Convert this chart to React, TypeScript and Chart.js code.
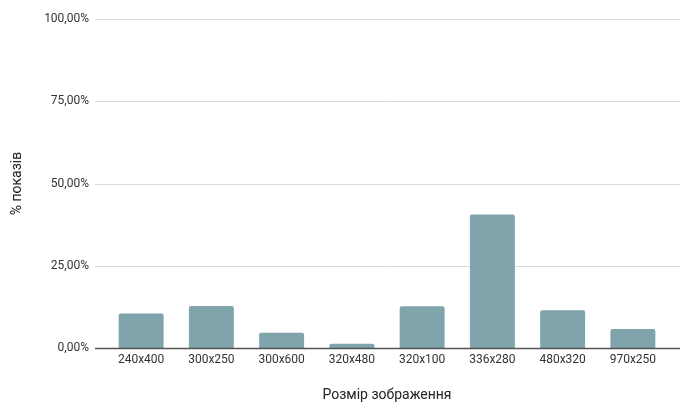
import React, { useEffect, useRef } from "react";
import { Chart, registerables } from "chart.js";

Chart.register(...registerables);

const categories = ["240x400", "300x250", "300x600", "320x480", "320x100", "336x280", "480x320", "970x250"];
const shares = [10.5, 12.8, 4.6, 1.3, 12.7, 40.6, 11.5, 5.8];
const yTicks = [0, 25, 50, 75, 100];

const fmt = (v: number) => v.toFixed(2).replace(".", ",") + "%";

const gridPlugin = {
  id: "sheetGrid",
  beforeDatasetsDraw(chart: any) {
    const { ctx, chartArea } = chart;
    const y = chart.scales.y;
    const l = chartArea.left - 11;
    const r = chartArea.right + 12;
    ctx.save();
    ctx.strokeStyle = "#d9d9d9";
    ctx.lineWidth = 1;
    yTicks.forEach((t) => {
      if (t === 0) return;
      const py = Math.round(y.getPixelForValue(t)) + 0.5;
      ctx.beginPath();
      ctx.moveTo(l, py);
      ctx.lineTo(r, py);
      ctx.stroke();
    });
    ctx.restore();
  },
  afterDatasetsDraw(chart: any) {
    const { ctx, chartArea } = chart;
    const y = chart.scales.y;
    const py = Math.round(y.getPixelForValue(0)) + 0.5;
    ctx.save();
    ctx.strokeStyle = "#555555";
    ctx.lineWidth = 1.3;
    ctx.beginPath();
    ctx.moveTo(chartArea.left - 11, py);
    ctx.lineTo(chartArea.right + 12, py);
    ctx.stroke();
    ctx.restore();
  },
};

export default function App() {
  const ref = useRef<HTMLCanvasElement>(null);
  useEffect(() => {
    const chart = new Chart(ref.current!, {
      type: "bar",
      data: {
        labels: categories,
        datasets: [
          {
            data: shares,
            backgroundColor: "#7fa4ac",
            borderRadius: 2,
            borderSkipped: "bottom",
            categoryPercentage: 0.8,
            barPercentage: 0.8,
          },
        ],
      },
      options: {
        animation: false,
        responsive: false,
        maintainAspectRatio: false,
        layout: { padding: { top: 19, right: 32, bottom: 0, left: 0 } },
        plugins: { legend: { display: false }, tooltip: { enabled: false } },
        scales: {
          x: {
            grid: { display: false, drawTicks: false },
            border: { display: false },
            ticks: { color: "#333333", font: { family: "Roboto", size: 12 }, padding: 5, maxRotation: 0 },
            title: {
              display: true,
              text: "Розмір зображення",
              color: "#222222",
              font: { family: "Roboto", size: 14 },
              padding: { top: 0, bottom: 13.6 },
            },
            afterFit: (s: any) => {
              s.height = 69;
            },
          },
          y: {
            min: 0,
            max: 100,
            afterBuildTicks: (s: any) => {
              s.ticks = yTicks.map((v) => ({ value: v }));
            },
            grid: { display: false, drawTicks: true, tickLength: 11 },
            border: { display: false },
            ticks: {
              color: "#333333",
              font: { family: "Roboto", size: 12 },
              padding: 6,
              callback: (v: any) => fmt(Number(v)),
            },
            title: {
              display: true,
              text: "% показів",
              color: "#222222",
              font: { family: "Roboto", size: 14 },
              padding: { top: 8.6, bottom: 0 },
            },
            afterFit: (s: any) => {
              s.width = 106;
            },
          },
        },
      },
      plugins: [gridPlugin],
    });
    return () => chart.destroy();
  }, []);
  return (
    <div style={{ position: "fixed", left: 0, top: 0, width: 700, height: 417, background: "#fff" }}>
      <canvas ref={ref} width={700} height={417} style={{ width: 700, height: 417 }} />
    </div>
  );
}
